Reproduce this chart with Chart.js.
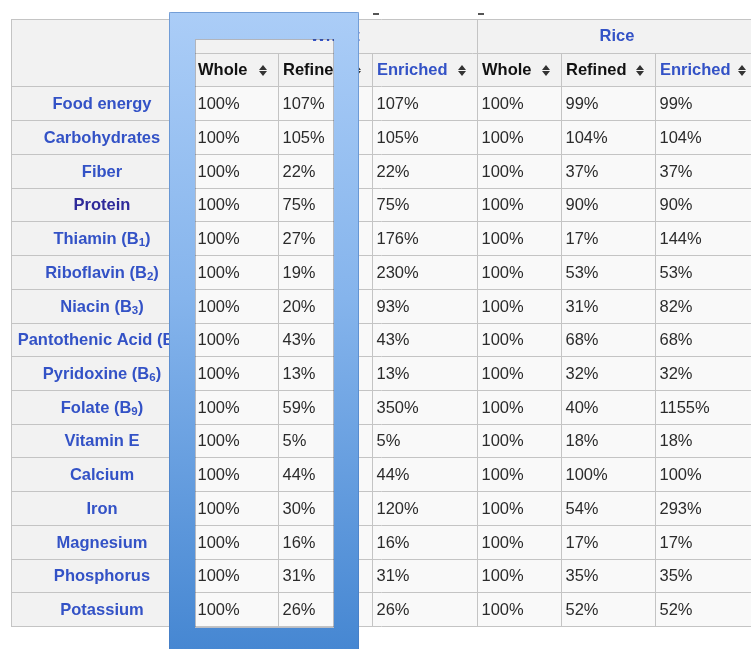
<!DOCTYPE html>
<html>
<head>
<meta charset="utf-8">
<script src="https://cdn.jsdelivr.net/npm/chart.js@4"></script>
<style>
html, body { margin: 0; padding: 0; background: #fff; }
canvas { display: block; }
</style>
</head>
<body>
<canvas id="nutrientTable" width="751" height="649"></canvas>
<script>
// ---- data ----
var nutrients = ["Food energy", "Carbohydrates", "Fiber", "Protein", "Thiamin (B₁)", "Riboflavin (B₂)",
    "Niacin (B₃)", "Pantothenic Acid (B₅)", "Pyridoxine (B₆)", "Folate (B₉)", "Vitamin E", "Calcium",
    "Iron", "Magnesium", "Phosphorus", "Potassium"];
var grains = ["Wheat", "Rice"];
var forms = ["Whole", "Refined", "Enriched"];

var wheatWhole    = [100, 100, 100, 100, 100, 100, 100, 100, 100, 100, 100, 100, 100, 100, 100, 100];
var wheatRefined  = [107, 105, 22, 75, 27, 19, 20, 43, 13, 59, 5, 44, 30, 16, 31, 26];
var wheatEnriched = [107, 105, 22, 75, 176, 230, 93, 43, 13, 350, 5, 44, 120, 16, 31, 26];
var riceWhole     = [100, 100, 100, 100, 100, 100, 100, 100, 100, 100, 100, 100, 100, 100, 100, 100];
var riceRefined   = [99, 104, 37, 90, 17, 53, 31, 68, 32, 40, 18, 100, 54, 17, 35, 52];
var riceEnriched  = [99, 104, 37, 90, 144, 53, 82, 68, 32, 1155, 18, 100, 293, 17, 35, 52];

var valueColumns = [wheatWhole, wheatRefined, wheatEnriched, riceWhole, riceRefined, riceEnriched];

// ---- layout (x in table units, y in rows) ----
var colEdges = [0, 182, 267, 361, 466, 550, 644, 746];
var headerRows = 2;
var lens = { outerX: [158, 348], innerX: [184, 323], outerY: [-0.21, 19.5], innerY: [0.6, 18.06] };

var linkBlue = '#3352c6';
var visitedBlue = '#2e2a9a';
var textDark = '#2b2b2b';
var FONT = '"Liberation Sans", Arial, sans-serif';

function drawRich(ctx, text, x, y, size, bold) {
    // draws text, rendering unicode subscript digits as small lowered digits
    var parts = [], cur = '', sub = false;
    for (var i = 0; i < text.length; i++) {
        var code = text.charCodeAt(i);
        var isSub = code >= 0x2080 && code <= 0x2089;
        var ch = isSub ? String(code - 0x2080) : text[i];
        if (isSub !== sub && cur) { parts.push({ t: cur, sub: sub }); cur = ''; }
        sub = isSub; cur += ch;
    }
    if (cur) parts.push({ t: cur, sub: sub });
    var w = 0;
    parts.forEach(function (p) {
        ctx.font = (bold ? 'bold ' : '') + (p.sub ? size * 0.7 : size) + 'px ' + FONT;
        p.w = ctx.measureText(p.t).width; w += p.w;
    });
    if (x === null) return w;
    parts.forEach(function (p) {
        ctx.font = (bold ? 'bold ' : '') + (p.sub ? size * 0.7 : size) + 'px ' + FONT;
        ctx.fillText(p.t, x, p.sub ? y + 4 : y);
        x += p.w;
    });
    return w;
}

function sortIcon(ctx, cx, cy) {
    ctx.fillStyle = '#333';
    ctx.beginPath();
    ctx.moveTo(cx - 4, cy - 0.5); ctx.lineTo(cx + 4, cy - 0.5); ctx.lineTo(cx, cy - 5.5); ctx.closePath();
    ctx.moveTo(cx - 4, cy + 0.5); ctx.lineTo(cx + 4, cy + 0.5); ctx.lineTo(cx, cy + 5.5); ctx.closePath();
    ctx.fill();
}

var tablePlugin = {
    id: 'nutrientTable',
    afterDraw: function (chart) {
        var ctx = chart.ctx, xs = chart.scales.x, ys = chart.scales.y;
        var px = function (v) { return Math.round(xs.getPixelForValue(v)); };
        var py = function (v) { return Math.round(ys.getPixelForValue(v)); };
        var nRows = headerRows + nutrients.length;
        var left = px(colEdges[0]), right = px(colEdges[colEdges.length - 1]);
        var c1 = px(colEdges[1]);
        var top = py(0), bodyTop = py(headerRows), bottom = py(nRows);

        ctx.save();
        // cell backgrounds
        ctx.fillStyle = '#f2f2f2';
        ctx.fillRect(left, top, right - left, bodyTop - top);
        ctx.fillRect(left, bodyTop, c1 - left, bottom - bodyTop);
        ctx.fillStyle = '#f9f9f9';
        ctx.fillRect(c1, bodyTop, right - c1, bottom - bodyTop);

        // grid lines
        ctx.strokeStyle = '#c4c4c4';
        ctx.lineWidth = 1;
        ctx.beginPath();
        var hl = function (yy, x0, x1) { ctx.moveTo(x0, yy + 0.5); ctx.lineTo(x1, yy + 0.5); };
        var vl = function (xx, y0, y1) { ctx.moveTo(xx + 0.5, y0); ctx.lineTo(xx + 0.5, y1); };
        hl(top, left, right);
        hl(py(1), c1, right);
        for (var r = 2; r <= nRows; r++) hl(py(r), left, right);
        vl(left, top, bottom + 1);
        for (var c = 1; c < colEdges.length; c++) {
            var spans = (c === 1 || c === 4 || c === colEdges.length - 1);
            vl(px(colEdges[c]), spans ? top : py(1), bottom + 1);
        }
        ctx.stroke();

        ctx.textBaseline = 'middle';

        // group header row
        ctx.textAlign = 'center';
        grains.forEach(function (g, gi) {
            var x0 = px(colEdges[1 + gi * 3]), x1 = px(colEdges[4 + gi * 3]);
            ctx.fillStyle = linkBlue;
            ctx.font = 'bold 16.5px ' + FONT;
            ctx.fillText(g, (x0 + x1) / 2, (py(0) + py(1)) / 2);
        });

        // sub header row
        ctx.textAlign = 'left';
        for (var k = 0; k < valueColumns.length; k++) {
            var cx0 = px(colEdges[k + 1]), cx1 = px(colEdges[k + 2]);
            var cy = (py(1) + py(2)) / 2 + 1;
            var name = forms[k % 3];
            ctx.fillStyle = name === 'Enriched' ? linkBlue : '#111';
            ctx.font = 'bold 16.5px ' + FONT;
            ctx.fillText(name, cx0 + 5, cy);
            sortIcon(ctx, cx1 - 15, cy);
        }

        // row labels
        ctx.save();
        ctx.beginPath();
        ctx.rect(left, top, c1 - left, bottom - top);
        ctx.clip();
        nutrients.forEach(function (n, i) {
            var cy = (py(headerRows + i) + py(headerRows + i + 1)) / 2 + 1;
            var w = drawRich(ctx, n, null, 0, 16.5, true);
            var x = Math.max(left + 5, (left + c1) / 2 - w / 2);
            ctx.fillStyle = n === 'Protein' ? visitedBlue : linkBlue;
            drawRich(ctx, n, x, cy, 16.5, true);
        });
        ctx.restore();

        // values
        ctx.fillStyle = textDark;
        ctx.font = '16.5px ' + FONT;
        valueColumns.forEach(function (col, k) {
            var cx0 = px(colEdges[k + 1]);
            col.forEach(function (v, i) {
                var cy = (py(headerRows + i) + py(headerRows + i + 1)) / 2 + 1;
                ctx.fillText(v + '%', cx0 + 4.5, cy);
            });
        });

        // small marks above the table
        ctx.fillStyle = '#555';
        [3, 4].forEach(function (c) { ctx.fillRect(px(colEdges[c]) + 1, py(-0.19), 6, 2); });

        // blue frame overlay
        var ox0 = px(lens.outerX[0]), ox1 = px(lens.outerX[1]);
        var ix0 = px(lens.innerX[0]), ix1 = px(lens.innerX[1]);
        var oy0 = py(lens.outerY[0]), oy1 = py(lens.outerY[1]);
        var iy0 = py(lens.innerY[0]), iy1 = py(lens.innerY[1]);
        var grad = ctx.createLinearGradient(0, oy0, 0, chart.height);
        grad.addColorStop(0, '#abcdf7');
        grad.addColorStop(0.45, '#85b4ec');
        grad.addColorStop(1, '#4687d2');
        ctx.beginPath();
        ctx.roundRect(ox0, oy0, ox1 - ox0, oy1 - oy0, 3);
        ctx.rect(ix0, iy0, ix1 - ix0, iy1 - iy0);
        ctx.fillStyle = grad;
        ctx.fill('evenodd');
        ctx.strokeStyle = 'rgba(70, 120, 190, 0.55)';
        ctx.lineWidth = 1;
        ctx.strokeRect(ox0 + 0.5, oy0 + 0.5, ox1 - ox0 - 1, oy1 - oy0);
        ctx.strokeStyle = 'rgba(60, 70, 90, 0.35)';
        ctx.strokeRect(ix0 + 0.5, iy0 + 0.5, ix1 - ix0 - 1, iy1 - iy0 - 1);
        ctx.restore();
    }
};

var tableChart = new Chart(document.getElementById('nutrientTable').getContext('2d'), {
    type: 'scatter',
    data: { datasets: [] },
    options: {
        responsive: false,
        animation: false,
        events: [],
        layout: { padding: { left: 11, top: 19, right: 0, bottom: 23 } },
        scales: {
            x: { type: 'linear', min: 0, max: 740, display: false },
            y: { type: 'linear', min: 0, max: 18, reverse: true, display: false }
        },
        plugins: {
            legend: { display: false },
            tooltip: { enabled: false }
        }
    },
    plugins: [tablePlugin]
});
</script>
</body>
</html>
